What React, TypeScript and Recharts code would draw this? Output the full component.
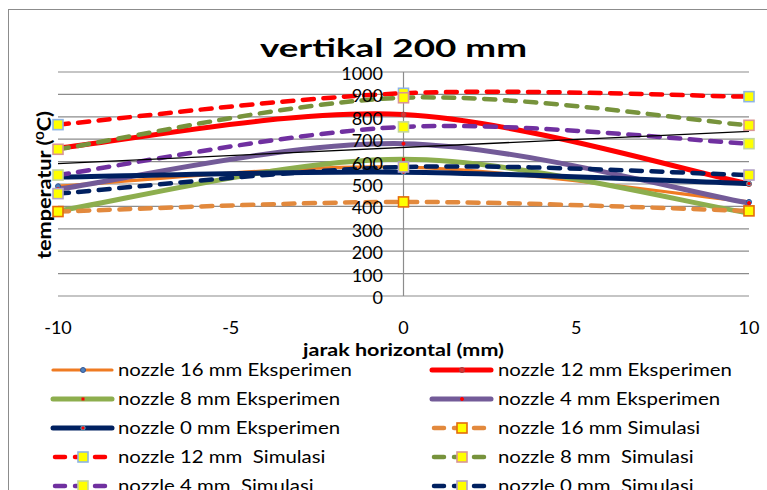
import React from 'react';
import { LineChart, Line, XAxis, YAxis, CartesianGrid, ReferenceLine, Legend } from 'recharts';

// ---------- data ----------
const xPositions = [-10, 0, 10];
const nozzle16Eksperimen = [490, 575, 420];
const nozzle12Eksperimen = [660, 810, 500];
const nozzle8Eksperimen = [380, 610, 370];
const nozzle4Eksperimen = [477, 680, 415];
const nozzle0Eksperimen = [531, 553, 502];
const nozzle16Simulasi = [377, 420, 380];
const nozzle12Simulasi = [765, 905, 890];
const nozzle8Simulasi = [655, 885, 762];
const nozzle4Simulasi = [540, 755, 680];
const nozzle0Simulasi = [457, 576, 540];
const trendline = [591, null, 735];
const xTicks = [-10, -5, 0, 5, 10];
const yTicks = [0, 100, 200, 300, 400, 500, 600, 700, 800, 900, 1000];

// ---------- layout ----------
const CHART_W = 767;
const CHART_H = 500;
const Y_AXIS_W = 1;
const MARGIN = { top: 72, right: 18, bottom: 144, left: 57 };
const X_AXIS_H = 60;
const PLOT_LEFT = MARGIN.left + Y_AXIS_W;
const ZERO_X = PLOT_LEFT + (CHART_W - PLOT_LEFT - MARGIN.right) / 2;
const PLOT_BOTTOM = CHART_H - MARGIN.bottom - X_AXIS_H;
const FONT = 'Lato, "Open Sans", sans-serif';
const GRID = '#8c8c8c';
const DASH = '11 9.5';
const LEGEND_SX = 1.2;

type Marker =
  | { kind: 'square'; fill: string; stroke: string }
  | { kind: 'dot'; fill: string; stroke: string; r: number }
  | { kind: 'tiny'; fill: string };

type Series = {
  key: string;
  name: string;
  values: (number | null)[];
  color: string;
  width: number;
  dashed: boolean;
  marker: Marker;
};

const SERIES: Series[] = [
  { key: 'e16', name: 'nozzle 16 mm Eksperimen', values: nozzle16Eksperimen, color: '#EF7B22', width: 3.2, dashed: false, marker: { kind: 'dot', fill: '#4F81BD', stroke: '#2F5597', r: 2.5 } },
  { key: 'e12', name: 'nozzle 12 mm Eksperimen', values: nozzle12Eksperimen, color: '#FF0000', width: 5, dashed: false, marker: { kind: 'dot', fill: '#E03030', stroke: '#A04040', r: 2.5 } },
  { key: 'e8', name: 'nozzle 8 mm Eksperimen', values: nozzle8Eksperimen, color: '#8DAE4E', width: 5, dashed: false, marker: { kind: 'tiny', fill: '#FF0000' } },
  { key: 'e4', name: 'nozzle 4 mm Eksperimen', values: nozzle4Eksperimen, color: '#735B98', width: 5, dashed: false, marker: { kind: 'dot', fill: '#FF0000', stroke: '#FF0000', r: 1.5 } },
  { key: 'e0', name: 'nozzle 0 mm Eksperimen', values: nozzle0Eksperimen, color: '#002060', width: 5, dashed: false, marker: { kind: 'dot', fill: '#FF0000', stroke: '#4BACC6', r: 2.2 } },
  { key: 's16', name: 'nozzle 16 mm Simulasi', values: nozzle16Simulasi, color: '#E2893D', width: 4.5, dashed: true, marker: { kind: 'square', fill: '#FFFF00', stroke: '#E46C0A' } },
  { key: 's12', name: 'nozzle 12 mm  Simulasi', values: nozzle12Simulasi, color: '#FF0000', width: 4.5, dashed: true, marker: { kind: 'square', fill: '#FFFF00', stroke: '#8EB4E3' } },
  { key: 's8', name: 'nozzle 8 mm  Simulasi', values: nozzle8Simulasi, color: '#77933C', width: 4.5, dashed: true, marker: { kind: 'square', fill: '#FFFF00', stroke: '#D99694' } },
  { key: 's4', name: 'nozzle 4 mm  Simulasi', values: nozzle4Simulasi, color: '#7030A0', width: 4.5, dashed: true, marker: { kind: 'square', fill: '#FFFF00', stroke: '#C3D69B' } },
  { key: 's0', name: 'nozzle 0 mm  Simulasi', values: nozzle0Simulasi, color: '#002060', width: 4.5, dashed: true, marker: { kind: 'square', fill: '#FFFF00', stroke: '#B3A2C7' } },
];

const data = xPositions.map((x, i) => {
  const row: Record<string, number | null> = { x, trend: trendline[i] };
  SERIES.forEach((s) => {
    row[s.key] = s.values[i];
  });
  return row;
});

// Excel-like smoothed line (Catmull-Rom bezier)
const excelSmooth: any = (context: any) => {
  let pts: [number, number][] = [];
  return {
    areaStart() {},
    areaEnd() {},
    lineStart() {
      pts = [];
    },
    lineEnd() {
      const n = pts.length;
      if (!n) return;
      context.moveTo(pts[0][0], pts[0][1]);
      for (let i = 0; i < n - 1; i++) {
        const p0 = pts[Math.max(i - 1, 0)];
        const p1 = pts[i];
        const p2 = pts[i + 1];
        const p3 = pts[Math.min(i + 2, n - 1)];
        context.bezierCurveTo(
          p1[0] + (p2[0] - p0[0]) / 6,
          p1[1] + (p2[1] - p0[1]) / 6,
          p2[0] - (p3[0] - p1[0]) / 6,
          p2[1] - (p3[1] - p1[1]) / 6,
          p2[0],
          p2[1]
        );
      }
    },
    point(x: number, y: number) {
      pts.push([+x, +y]);
    },
  };
};

function renderMarker(m: Marker, cx: number, cy: number, key: string) {
  if (cx == null || cy == null || isNaN(cx) || isNaN(cy)) return <g key={key} />;
  if (m.kind === 'square') {
    return <rect key={key} x={cx - 5} y={cy - 5} width={10} height={10} fill={m.fill} stroke={m.stroke} strokeWidth={1.6} />;
  }
  if (m.kind === 'tiny') {
    return <rect key={key} x={cx - 1.5} y={cy - 1.5} width={3} height={3} fill={m.fill} />;
  }
  return <circle key={key} cx={cx} cy={cy} r={m.r} fill={m.fill} stroke={m.stroke} strokeWidth={1} />;
}

const YTick = (p: any) => (
  <text x={ZERO_X - 20.5} y={p.y} dy={8} textAnchor="end" fontSize={18} fontFamily={FONT} fill="#000">
    {p.payload.value}
  </text>
);

const XTick = (p: any) => (
  <text x={p.x} y={PLOT_BOTTOM + 37.5} textAnchor="middle" fontSize={18} fontFamily={FONT} fill="#000">
    {p.payload.value}
  </text>
);

const XLabel = () => (
  <text x={ZERO_X} y={PLOT_BOTTOM + 59.5} textAnchor="middle" fontSize={17} fontWeight="bold" fontFamily={FONT} fill="#000" textLength={201} lengthAdjust="spacingAndGlyphs">
    jarak horizontal (mm)
  </text>
);

const YLabel = () => (
  <text transform="translate(51,185) rotate(-90)" x={0} y={0} textAnchor="middle" fontSize={18} fontWeight="bold" fontFamily={FONT} fill="#000" textLength={148} lengthAdjust="spacingAndGlyphs">
    temperatur (<tspan fontSize={12} dy={-7}>0</tspan>
    <tspan dy={7}>C)</tspan>
  </text>
);

const seriesIndex = (key: string) => SERIES.findIndex((s) => s.key === key);

const LegendContent = (props: any) => {
  const payload = (props.payload || [])
    .filter((p: any) => seriesIndex(p.dataKey) >= 0)
    .sort((a: any, b: any) => seriesIndex(a.dataKey) - seriesIndex(b.dataKey));
  return (
    <div style={{ position: 'relative', height: 0 }}>
      <svg width={CHART_W} height={150} style={{ position: 'absolute', left: 0, top: 0, overflow: 'visible' }}>
        {payload.map((p: any, i: number) => {
          const s = SERIES[seriesIndex(p.dataKey)];
          const col = i % 2;
          const row = Math.floor(i / 2);
          const x0 = col === 0 ? 53 : 432;
          const tx = col === 0 ? 118 : 498;
          const cy = 14 + row * 29;
          return (
            <g key={s.key}>
              {s.dashed ? (
                <line x1={x0 + 2} x2={x0 + 56} y1={cy} y2={cy} stroke={s.color} strokeWidth={s.width} strokeDasharray="10 10" strokeLinecap="round" />
              ) : (
                <line x1={x0} x2={x0 + 59} y1={cy} y2={cy} stroke={s.color} strokeWidth={s.width} strokeLinecap="round" />
              )}
              {renderMarker(s.marker, x0 + 30, cy, s.key + '-m')}
              <text
                x={tx}
                y={cy + 6}
                fontSize={17}
                fontFamily={FONT}
                fill="#000"
                xmlSpace="preserve"
                style={{ whiteSpace: 'pre' }}
                transform={`translate(${tx},0) scale(${LEGEND_SX},1) translate(${-tx},0)`}
              >
                {s.name}
              </text>
            </g>
          );
        })}
      </svg>
    </div>
  );
};

export default function App() {
  return (
    <div style={{ position: 'absolute', left: 0, top: 0, width: 767, height: 490, overflow: 'hidden', background: '#fff' }}>
      <div style={{ position: 'absolute', left: 8, top: 9, width: 900, height: 700, borderLeft: '1.5px solid #8c8c8c', borderTop: '1.5px solid #8c8c8c' }} />
      <div style={{ position: 'absolute', left: 0, top: 0 }}>
        <LineChart width={CHART_W} height={CHART_H} data={data} margin={MARGIN}>
          <CartesianGrid vertical={false} stroke={GRID} strokeWidth={1.2} />
          <XAxis
            dataKey="x"
            type="number"
            domain={[-10, 10]}
            ticks={xTicks}
            interval={0}
            axisLine={false}
            tickLine={false}
            height={X_AXIS_H}
            tick={<XTick />}
            label={{ content: <XLabel /> } as any}
          />
          <YAxis
            type="number"
            domain={[0, 1000]}
            ticks={yTicks}
            interval={0}
            width={Y_AXIS_W}
            axisLine={false}
            tickLine={false}
            tick={<YTick />}
            label={{ content: <YLabel /> } as any}
          />
          <ReferenceLine x={0} stroke={GRID} strokeWidth={1.2} />
          {SERIES.map((s) => (
            <Line
              key={s.key}
              dataKey={s.key}
              name={s.name}
              type={excelSmooth}
              stroke={s.color}
              strokeWidth={s.width}
              strokeDasharray={s.dashed ? DASH : undefined}
              strokeLinecap="round"
              dot={(p: any) => renderMarker(s.marker, p.cx, p.cy, `${s.key}-${p.index}`)}
              activeDot={false}
              isAnimationActive={false}
            />
          ))}
          <Line
            dataKey="trend"
            type="linear"
            connectNulls
            stroke="#000"
            strokeWidth={1.3}
            dot={false}
            activeDot={false}
            legendType="none"
            isAnimationActive={false}
          />
          <Legend
            itemSorter={null as any}
            wrapperStyle={{ left: 0, top: 356, width: CHART_W, margin: 0, padding: 0 }}
            content={<LegendContent />}
          />
        </LineChart>
      </div>
      <svg width={767} height={70} style={{ position: 'absolute', left: 0, top: 0, pointerEvents: 'none' }}>
        <text x={260} y={57} fontSize={25.5} fontWeight="bold" fontFamily={FONT} fill="#000" textLength={267} lengthAdjust="spacingAndGlyphs">
          vertikal 200 mm
        </text>
      </svg>
    </div>
  );
}
